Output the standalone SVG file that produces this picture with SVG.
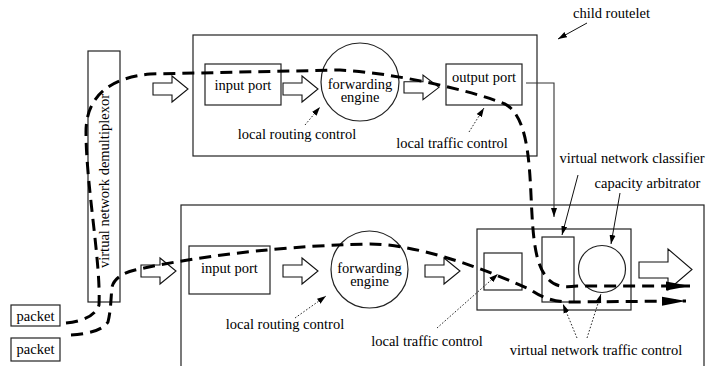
<svg xmlns="http://www.w3.org/2000/svg" width="728" height="366" viewBox="0 0 728 366" font-family="'Liberation Serif', 'Times New Roman', serif">
  <style>
    text { font-family: "Liberation Serif", "Times New Roman", serif; font-size: 14.5px; fill: #000; }
    .mid { text-anchor: middle; }
    .box { fill: #fff; stroke: #222; stroke-width: 1.2; }
    .frame { fill: none; stroke: #222; stroke-width: 1.2; }
    .blk { fill: #fff; stroke: #111; stroke-width: 1.1; }
    .flow { fill: none; stroke: #000; stroke-width: 3; stroke-dasharray: 12 7; }
    .note { fill: none; stroke: #111; stroke-width: 0.9; stroke-dasharray: 1.6 1.8; }
    .lead { fill: none; stroke: #111; stroke-width: 1; }
    .wire { fill: none; stroke: #333; stroke-width: 1.1; }
  </style>
  <defs>
    <marker id="tip" markerUnits="userSpaceOnUse" markerWidth="10" markerHeight="8" refX="9" refY="4" orient="auto">
      <path d="M0,1 L9,4 L0,7 z" fill="#000"/>
    </marker>
    <marker id="bigtip" markerUnits="userSpaceOnUse" markerWidth="26" markerHeight="12" refX="24" refY="6" orient="auto">
      <path d="M0,1.5 L24,6 L0,10.5 z" fill="#000"/>
    </marker>
    <!-- hollow block arrow, 35 x 26 -->
    <path id="blockArrow" d="M0,7 H19 V0 L35,13 L19,26 V19 H0 Z"/>
  </defs>

  <!-- child routelet (upper) -->
  <g id="child-routelet">
    <rect class="frame" x="193" y="35" width="344" height="121"/>
  </g>
  <!-- parent routelet (lower) -->
  <g id="parent-routelet">
    <rect class="frame" x="181" y="205" width="523" height="175"/>
  </g>

  <g id="demux">
    <rect class="box" x="88" y="51" width="32" height="251"/>
    <text class="mid" transform="translate(109,181) rotate(-90)">virtual network demultiplexor</text>
  </g>

  <g id="packet-1">
    <rect class="box" x="11" y="305" width="49" height="21"/>
    <text class="mid" x="35.5" y="321">packet</text>
  </g>
  <g id="packet-2">
    <rect class="box" x="11" y="338" width="49" height="23"/>
    <text class="mid" x="35.5" y="354">packet</text>
  </g>

  <!-- upper pipeline -->
  <g id="child-input-port">
    <rect class="box" x="205" y="64" width="76" height="41"/>
    <text class="mid" x="243" y="89.5">input port</text>
  </g>
  <g id="child-forwarding-engine">
    <circle class="box" cx="360" cy="82" r="39"/>
    <text class="mid" x="360" y="89">forwarding</text>
    <text class="mid" x="360" y="102">engine</text>
  </g>
  <g id="child-output-port">
    <rect class="box" x="446" y="64" width="76" height="41"/>
    <text class="mid" x="484" y="82">output port</text>
  </g>

  <!-- lower pipeline -->
  <g id="parent-input-port">
    <rect class="box" x="189" y="246" width="81" height="48"/>
    <text class="mid" x="229.5" y="273">input port</text>
  </g>
  <g id="parent-forwarding-engine">
    <circle class="box" cx="369.5" cy="269.5" r="38.5"/>
    <text class="mid" x="369.5" y="273">forwarding</text>
    <text class="mid" x="369.5" y="286">engine</text>
  </g>
  <g id="output-stage">
    <rect class="box" x="477" y="229" width="154" height="81"/>
  </g>
  <g id="local-traffic-square">
    <rect class="box" x="484" y="253" width="38" height="37"/>
  </g>
  <g id="classifier">
    <rect class="box" x="542" y="237" width="32" height="65"/>
  </g>
  <g id="capacity-arbitrator">
    <circle class="box" cx="602" cy="269" r="23.5"/>
  </g>

  <!-- hollow block arrows -->
  <g id="block-arrows">
    <use href="#blockArrow" class="blk" transform="translate(153,76)"/>
    <use href="#blockArrow" class="blk" transform="translate(283,76)"/>
    <use href="#blockArrow" class="blk" transform="translate(404,75) scale(1,0.95)"/>
    <use href="#blockArrow" class="blk" transform="translate(141,258)"/>
    <use href="#blockArrow" class="blk" transform="translate(283,258)"/>
    <use href="#blockArrow" class="blk" transform="translate(425,258)"/>
    <path class="blk" d="M639,262 H668 V249 L692,269.5 L668,290 V278 H639 Z"/>
  </g>

  <g id="connectors">
    <!-- output port feeds the classifier -->
    <path class="wire" d="M526,83 H554 V217" marker-end="url(#tip)"/>

    <!-- packet flows -->
    <path class="flow" d="M66,323 Q94,320 99,305 C101,262 86,185 86,132 C86,96 110,78 150,74 L340,70 C395,73 470,90 505,104 C525,115 529,150 531,195 C533,240 535,266 549,280 C557,288 568,287 577,286 L690,286" marker-end="url(#bigtip)"/>
    <path class="flow" d="M71,335 Q101,333 108,322 C111,310 111,296 112,287 Q115,275 135,270 C170,262 260,246 370,244 C410,244 470,262 531,290 Q548,302 570,302 L686,301" marker-end="url(#bigtip)"/>

    <!-- control annotations -->
    <path class="note" d="M305,125 L320,107" marker-end="url(#tip)"/>
    <path class="note" d="M469,132 L484,108" marker-end="url(#tip)"/>
    <path class="note" d="M295,318 L326,296" marker-end="url(#tip)"/>
    <path class="note" d="M437,328 L498,274" marker-end="url(#tip)"/>
    <path class="note" d="M577,338 L563,304" marker-end="url(#tip)"/>
    <path class="note" d="M587,338 L601,294" marker-end="url(#tip)"/>

    <!-- label leaders -->
    <path class="lead" d="M587,23 L558,39" marker-end="url(#tip)"/>
    <path class="lead" d="M578,175 L562,235" marker-end="url(#tip)"/>
    <path class="lead" d="M620,193 L611,244" marker-end="url(#tip)"/>
  </g>

  <g id="labels">
    <text x="573" y="18">child routelet</text>
    <text class="mid" x="297" y="139">local routing control</text>
    <text class="mid" x="452" y="148">local traffic control</text>
    <text class="mid" x="632" y="163">virtual network classifier</text>
    <text class="mid" x="647.5" y="188">capacity arbitrator</text>
    <text class="mid" x="285" y="329">local routing control</text>
    <text class="mid" x="427" y="346">local traffic control</text>
    <text class="mid" x="596" y="355">virtual network traffic control</text>
  </g>
</svg>
